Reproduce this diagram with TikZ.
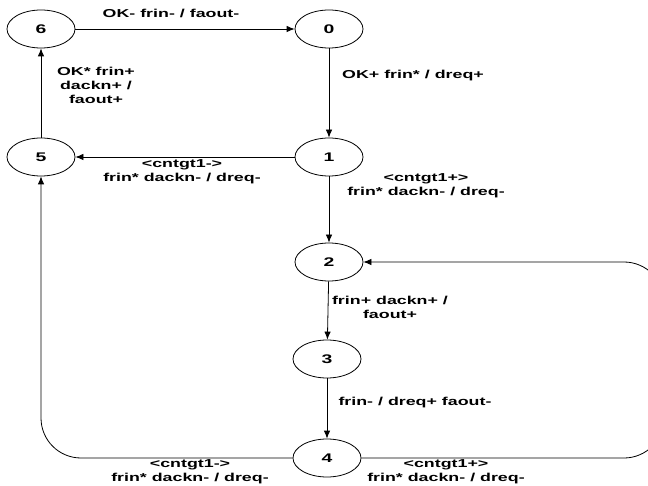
\documentclass[tikz,border=0pt]{standalone}
\usepackage{fontspec}
\setmainfont{Liberation Sans}
\usetikzlibrary{arrows.meta,shapes.geometric}
% wide bold text, one or more centred lines
\newcommand\wide[1]{\scalebox{1.55}[1]{\begin{tabular}{@{}c@{}}#1\end{tabular}}}
\begin{document}
\begin{tikzpicture}[x=1pt,y=-1pt,
  state/.style={draw, line width=0.8pt, ellipse, minimum width=68pt, minimum height=38pt,
    inner sep=0pt, font=\fontsize{12.5}{14}\selectfont\bfseries},
  lbl/.style={inner sep=0pt, font=\fontsize{11.5}{14}\selectfont\bfseries},
  tr/.style={-{Latex[length=8pt,width=6.5pt]}, line width=0.8pt}]
\useasboundingbox (0,0) rectangle (648,486);
\clip (0,0) rectangle (648,486);

% states
\node[state] (6) at (41,29)  {\scalebox{1.55}[1]{6}};
\node[state] (0) at (329,29) {\scalebox{1.55}[1]{0}};
\node[state] (5) at (41,157) {\scalebox{1.55}[1]{5}};
\node[state] (1) at (329,157) {\scalebox{1.55}[1]{1}};
\node[state] (2) at (329,262) {\scalebox{1.55}[1]{2}};
\node[state] (3) at (327,359) {\scalebox{1.55}[1]{3}};
\node[state] (4) at (327,458) {\scalebox{1.55}[1]{4}};
\coordinate (rx) at (664,0);

% transitions
\draw[tr] (6) -- (0);
\draw[tr] (0) -- (1);
\draw[tr] (1) -- (5);
\draw[tr] (1) -- (2);
\draw[tr] (2) -- (3);
\draw[tr] (3) -- (4);
\draw[tr] (5) -- (6);
\draw[tr, rounded corners=40pt] (4.west) -| (5);
\draw[tr, rounded corners=40pt] (4.east) -- (4.east -| rx) -- (2.east -| rx) -- (2.east);

% transition labels
\node[lbl] (l60) at (171,15)  {\wide{OK- frin- / faout-}};
\node[lbl] (l01) at (413,76)  {\wide{OK+ frin* / dreq+}};
\node[lbl] (l56) at (96,87)   {\wide{OK* frin+\\dackn+ /\\faout+}};
\node[lbl] (l15) at (182,172) {\wide{<cntgt1->\\frin* dackn- / dreq-}};
\node[lbl] (l12) at (426,186) {\wide{<cntgt1+>\\frin* dackn- / dreq-}};
\node[lbl] (l23) at (390,309) {\wide{frin+ dackn+ /\\faout+}};
\node[lbl] (l34) at (415,403) {\wide{frin- / dreq+ faout-}};
\node[lbl] (l45) at (190,472) {\wide{<cntgt1->\\frin* dackn- / dreq-}};
\node[lbl] (l42) at (446,472) {\wide{<cntgt1+>\\frin* dackn- / dreq-}};
\end{tikzpicture}
\end{document}
